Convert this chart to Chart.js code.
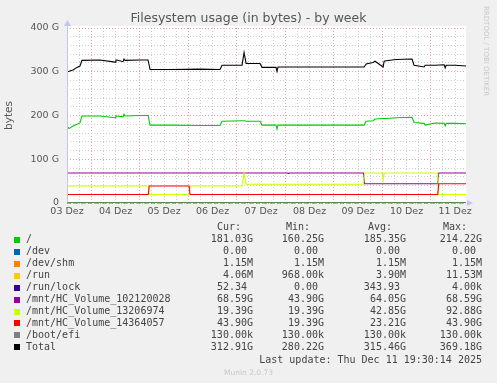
<!DOCTYPE html>
<html>
<head>
<meta charset="utf-8">
<script src="https://cdn.jsdelivr.net/npm/chart.js@4.4.1/dist/chart.umd.min.js"></script>
<style>
  body { margin: 0; background: #f0f0f0; width: 497px; height: 383px; overflow: hidden; position: relative; font-family: "DejaVu Sans", sans-serif; }
  #wrap { position: absolute; left: 0; top: 0; width: 497px; height: 222px; }
  .title { position: absolute; top: 10px; left: 0; width: 497px; text-align: center; font-size: 12.5px; color: #555; z-index: 2; }
  .vendor { position: absolute; left: 482px; top: 6px; writing-mode: vertical-rl; font-size: 7px; color: #c8c8c8; z-index: 2; }
  .leg { position: absolute; font-family: "DejaVu Sans Mono", monospace; font-size: 10px; line-height: 12px; color: #444; white-space: pre; }
  .num { text-align: right; width: 90px; }
  .sq { position: absolute; width: 6px; height: 6px; }
  .munin { position: absolute; top: 368px; left: 0; width: 497px; text-align: center; font-size: 7.5px; color: #c8c8c8; }
</style>
</head>
<body>
<div id="wrap"><canvas id="fs_week" width="497" height="222"></canvas></div>
<div class="title">Filesystem usage (in bytes) - by week</div>
<div class="vendor">RRDTOOL / TOBI OETIKER</div>
<div id="legend"></div>
<div class="munin">Munin 2.0.73</div>
<script>
// x values are hours counted from 03 Dez 00:00, y values in G
var dayLabels = ["03 Dez", "04 Dez", "05 Dez", "06 Dez", "07 Dez", "08 Dez", "09 Dez", "10 Dez", "11 Dez"];

var hours = [12.0, 13.0, 15.0, 16.9, 18.4, 19.4, 28.3, 35.8, 36.2, 36.7, 39.7, 40.2, 40.7, 48.1, 52.1, 53.1,
    63.0, 77.8, 87.7, 88.7, 98.6, 99.6, 100.6, 107.5, 108.5, 115.4, 115.9, 116.4, 127.3, 142.1, 159.0, 160.0,
    163.4, 164.4, 168.4, 168.9, 169.9, 174.8, 182.7, 183.7, 188.7, 189.2, 194.1, 198.6, 199.1, 199.6, 204.0, 209.4];
var totalG = [300, 301, 304, 310, 313, 326, 327, 322, 327, 327, 323, 329, 326, 327, 327, 305,
    305, 306, 305, 315, 315, 344, 319, 319, 310, 310, 301, 311, 311, 311, 311, 318,
    321, 324, 311, 324, 325, 328, 329, 315, 311, 315, 315, 316, 309, 315, 315, 313];
var rootG = [176, 170, 176, 180, 183, 199, 199, 195, 200, 199, 197, 203, 199, 200, 200, 178,
    178, 177, 177, 187, 188, 188, 187, 187, 178, 178, 169, 178, 178, 178, 178, 187,
    188, 192, 193, 193, 193, 195, 196, 184, 182, 178, 183, 182, 176, 182, 182, 181];

var vol102Hours = [12, 121.0, 121.4, 121.8, 158.7, 159.2, 195.4, 195.9, 209.4];
var vol102G = [68.6, 68.6, 67.6, 68.6, 68.6, 43.9, 43.9, 68.6, 68.6];
var vol132Hours = [12, 52.2, 52.7, 72.4, 72.9, 98.6, 99.6, 100.6, 158.7, 159.2, 168.0, 168.4, 168.9, 195.4, 195.9, 209.4];
var vol132G = [39, 39, 19.4, 19.4, 39, 39, 68, 43, 43, 68.6, 68.6, 53, 68.6, 68.6, 19.4, 19.4];
var vol143Hours = [12, 52.2, 52.7, 72.4, 72.9, 195.4, 195.9, 209.4];
var vol143G = [19.4, 19.4, 39, 39, 19.4, 19.4, 43.9, 43.9];

var flatHours = [12, 209.4];
var devG = [0, 0];
var shmG = [0.00115, 0.00115];
var runG = [0.004, 0.004];
var lockG = [0, 0];
var efiG = [0.00013, 0.00013];

var seriesNames = ["/", "/dev", "/dev/shm", "/run", "/run/lock", "/mnt/HC_Volume_102120028",
    "/mnt/HC_Volume_13206974", "/mnt/HC_Volume_14364057", "/boot/efi", "Total"];
var seriesColors = ["#00cc00", "#0066b3", "#ff8000", "#ffcc00", "#330099", "#990099",
    "#ccff00", "#ff0000", "#808080", "#000000"];
var curVals = ["181.03G", "0.00 ", "1.15M", "4.06M", "52.34 ", "68.59G", "19.39G", "43.90G", "130.00k", "312.91G"];
var minVals = ["160.25G", "0.00 ", "1.15M", "968.00k", "0.00 ", "43.90G", "19.39G", "19.39G", "130.00k", "280.22G"];
var avgVals = ["185.35G", "0.00 ", "1.15M", "3.90M", "343.93 ", "64.05G", "42.85G", "23.21G", "130.00k", "315.46G"];
var maxVals = ["214.22G", "0.00 ", "1.15M", "11.53M", "4.00k", "68.59G", "92.88G", "43.90G", "130.00k", "369.18G"];

function pairs(xs, ys) {
    return xs.map(function (x, i) { return { x: x, y: ys[i] }; });
}

var seriesData = [
    pairs(hours, rootG), pairs(flatHours, devG), pairs(flatHours, shmG), pairs(flatHours, runG),
    pairs(flatHours, lockG), pairs(vol102Hours, vol102G), pairs(vol132Hours, vol132G),
    pairs(vol143Hours, vol143G), pairs(flatHours, efiG), pairs(hours, totalG)
];

var dataSet = [];
seriesData.forEach(function (d, i) {
    dataSet.push({
        label: seriesNames[i],
        data: d,
        borderColor: seriesColors[i],
        backgroundColor: seriesColors[i],
        borderWidth: 1.1,
        pointRadius: 0,
        tension: 0,
        fill: false,
        order: seriesNames.length - i
    });
});

var gridRed = "#e6a0a0";
var gridGray = "#cfcfcf";
var axisBlue = "#c4c4f4";

var plotDecor = {
    id: "plotDecor",
    beforeDraw: function (chart) {
        var ctx = chart.ctx, a = chart.chartArea;
        ctx.save();
        ctx.fillStyle = "#ffffff";
        ctx.fillRect(a.left, a.top - 2, a.right - a.left, a.bottom - a.top + 2);
        ctx.restore();
    },
    afterDatasetsDraw: function (chart) {
        var ctx = chart.ctx, a = chart.chartArea;
        ctx.save();
        // y axis line
        ctx.strokeStyle = axisBlue;
        ctx.lineWidth = 1;
        ctx.beginPath();
        ctx.moveTo(a.left + 0.5, a.top - 2);
        ctx.lineTo(a.left + 0.5, a.bottom);
        ctx.stroke();
        // zero line
        ctx.strokeStyle = "#00cc00";
        ctx.lineWidth = 1.2;
        ctx.setLineDash([4, 3]);
        ctx.beginPath();
        ctx.moveTo(a.left, a.bottom);
        ctx.lineTo(a.right, a.bottom);
        ctx.stroke();
        ctx.setLineDash([]);
        // axis arrows
        ctx.fillStyle = axisBlue;
        ctx.beginPath();
        ctx.moveTo(a.left - 3, a.top - 2);
        ctx.lineTo(a.left + 4, a.top - 2);
        ctx.lineTo(a.left + 0.5, a.top - 8);
        ctx.fill();
        ctx.beginPath();
        ctx.moveTo(a.right + 1, a.bottom - 3);
        ctx.lineTo(a.right + 1, a.bottom + 3);
        ctx.lineTo(a.right + 7, a.bottom);
        ctx.fill();
        ctx.restore();
    }
};

Chart.defaults.font.family = "DejaVu Sans";
Chart.defaults.color = "#555";

new Chart("fs_week", {
    type: "line",
    data: { datasets: dataSet },
    plugins: [plotDecor],
    options: {
        responsive: false,
        animation: false,
        devicePixelRatio: 1,
        layout: { padding: { top: 28, right: 31, left: 0, bottom: 0 } },
        scales: {
            x: {
                type: "linear",
                min: 12,
                max: 209.4,
                afterFit: function (scale) { scale.height = 19; },
                afterBuildTicks: function (scale) {
                    var t = [];
                    for (var h = 12; h <= 204; h += 6) t.push({ value: h });
                    scale.ticks = t;
                },
                ticks: {
                    autoSkip: false,
                    maxRotation: 0,
                    padding: 3,
                    font: { size: 9.5 },
                    color: "#555",
                    callback: function (v) {
                        if (v % 24 === 12) {
                            return dayLabels[(v - 12) / 24];
                        }
                        return "";
                    }
                },
                grid: {
                    drawTicks: false,
                    lineWidth: 1,
                    color: function (c) {
                        if (!c.tick) return gridGray;
                        return c.tick.value % 24 === 0 ? gridRed : gridGray;
                    }
                },
                border: { display: false, dash: [1, 2] }
            },
            y: {
                min: 0,
                max: 400,
                afterFit: function (scale) { scale.width = 67; },
                title: {
                    display: true,
                    text: "bytes",
                    font: { size: 10.5 },
                    color: "#555",
                    padding: { top: 3, bottom: 0 }
                },
                ticks: {
                    stepSize: 20,
                    autoSkip: false,
                    padding: 8,
                    font: { size: 9.5 },
                    color: "#555",
                    callback: function (v) {
                        if (v % 100 !== 0) return "";
                        return v === 0 ? "0" : v + " G";
                    }
                },
                grid: {
                    drawTicks: false,
                    lineWidth: 1,
                    color: function (c) {
                        if (!c.tick) return gridGray;
                        return c.tick.value % 100 === 0 ? gridRed : gridGray;
                    }
                },
                border: { display: false, dash: [1, 2] }
            }
        },
        plugins: {
            legend: { display: false },
            tooltip: { enabled: false }
        }
    }
});

// legend table below the chart
var legend = document.getElementById("legend");
var rowY = 239.8, rowStep = 11.95;
var colRight = [253, 324, 406, 482];
var headers = ["Cur:", "Min:", "Avg:", "Max:"];
var headerRight = [241, 310, 392, 467];

function addText(cls, txt, left, top, extra) {
    var d = document.createElement("div");
    d.className = cls;
    d.textContent = txt;
    d.style.left = left + "px";
    d.style.top = top + "px";
    if (extra) d.style.cssText += extra;
    legend.appendChild(d);
}

headers.forEach(function (h, j) {
    addText("leg num", h, headerRight[j] - 90, 227.5 - 6.5);
});
seriesNames.forEach(function (name, i) {
    var cy = rowY + rowStep * i;
    var sq = document.createElement("div");
    sq.className = "sq";
    sq.style.left = "14px";
    sq.style.top = (cy - 3) + "px";
    sq.style.background = seriesColors[i];
    legend.appendChild(sq);
    addText("leg", name, 26, cy - 6.5);
    [curVals, minVals, avgVals, maxVals].forEach(function (col, j) {
        addText("leg num", col[i], colRight[j] - 90, cy - 6.5);
    });
});
addText("leg", "Last update: Thu Dec 11 19:30:14 2025", 0, 360 - 6.5, "width:482px;text-align:right;");
</script>
</body>
</html>
